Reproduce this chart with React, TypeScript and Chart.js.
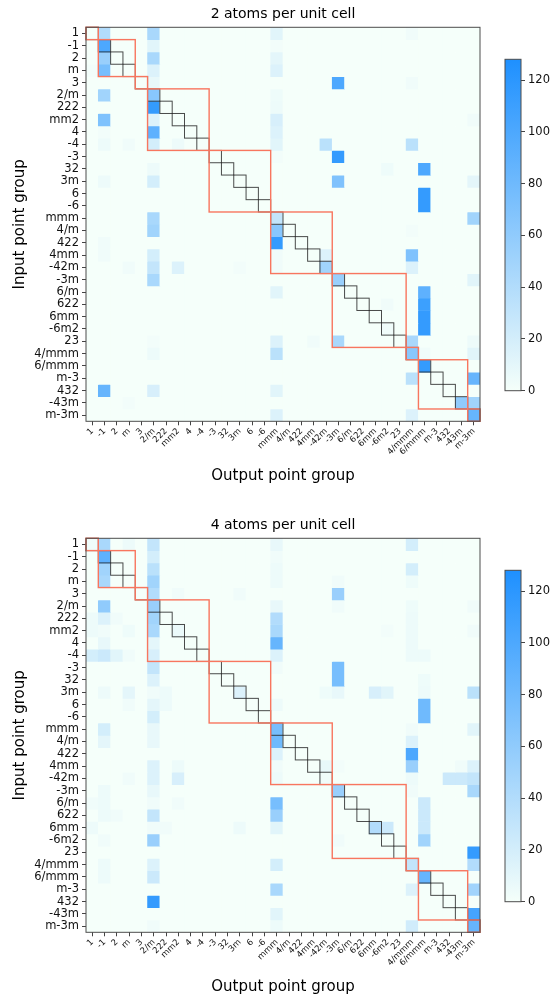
import React, { useEffect, useRef } from "react";
import { Chart, registerables } from "chart.js";

Chart.register(...registerables);

const GROUPS = ["1","-1","2","m","3","2/m","222","mm2","4","-4","-3","32","3m","6","-6","mmm","4/m","422","4mm","-42m","-3m","6/m","622","6mm","-6m2","23","4/mmm","6/mmm","m-3","432","-43m","m-3m"];
const GROUP_ORDERS = [1,2,2,2,3,4,4,4,4,4,6,6,6,6,6,8,8,8,8,8,12,12,12,12,12,12,16,24,24,24,24,48];
const COLORBAR_MAX = 128;
const COLORBAR_TICKS = [0,20,40,60,80,100,120];
const TITLE_2 = "2 atoms per unit cell";
const TITLE_4 = "4 atoms per unit cell";
const X_TITLE = "Output point group";
const Y_TITLE = "Input point group";

const COUNTS_2: number[][] = [
  [0,40,0,0,0,45,0,0, 0,0,0,0,0,0,0,12, 0,0,0,0,0,0,0,0, 0,0,3,0,0,0,0,0],
  [0,100,0,0,0,12,0,0, 0,0,0,0,0,0,0,2, 0,0,0,0,0,0,0,0, 0,0,0,0,0,0,0,0],
  [0,55,0,0,0,45,0,0, 0,0,0,0,0,0,0,10, 0,0,0,0,0,0,0,0, 0,0,0,0,0,0,0,0],
  [2,75,0,0,0,15,0,0, 0,0,0,0,0,0,0,15, 0,0,0,0,0,0,0,0, 0,0,0,0,0,0,0,0],
  [0,0,0,0,0,8,0,0, 0,0,0,0,0,0,0,0, 0,0,0,0,100,0,0,0, 0,0,3,0,0,0,0,0],
  [0,50,0,0,0,65,0,0, 0,0,0,0,0,0,0,4, 0,0,0,0,0,0,0,0, 0,0,0,0,0,0,0,0],
  [0,0,0,0,0,115,0,0, 0,0,0,0,0,0,0,5, 0,0,0,0,0,0,0,0, 0,0,0,0,0,0,0,0],
  [0,70,0,0,0,15,0,0, 0,0,0,0,0,0,0,18, 0,0,0,0,0,0,0,0, 0,0,0,0,0,0,0,3],
  [0,2,0,0,0,90,0,0, 0,0,0,0,0,0,0,15, 0,0,0,0,0,0,0,0, 0,0,0,0,0,0,0,0],
  [0,5,0,3,0,20,0,5, 0,0,0,0,0,0,0,12, 0,0,0,35,0,0,0,0, 0,0,35,0,0,0,0,0],
  [0,0,0,0,0,0,0,0, 0,0,0,0,0,0,0,2, 0,0,0,0,115,0,0,0, 0,0,0,0,0,0,0,0],
  [0,0,0,0,0,5,0,0, 0,0,0,0,0,0,0,0, 0,0,0,0,0,0,0,0, 4,0,0,100,0,0,0,0],
  [0,5,0,0,0,20,0,0, 0,0,0,0,0,0,0,0, 0,0,0,0,70,0,0,0, 0,0,0,0,0,0,0,10],
  [0,0,0,0,0,0,0,0, 0,0,0,0,0,0,0,0, 0,0,0,0,0,0,0,0, 0,0,0,115,0,0,0,0],
  [0,0,0,0,0,0,0,0, 0,0,0,0,0,0,0,0, 0,0,0,0,0,0,0,0, 0,0,0,115,0,0,0,0],
  [0,0,0,0,0,45,0,0, 0,0,0,0,0,0,0,30, 0,0,0,0,0,0,0,0, 0,0,0,0,0,0,0,50],
  [0,0,0,0,0,50,0,0, 0,0,0,0,0,0,0,65, 0,0,0,0,0,0,0,0, 0,0,2,0,0,0,0,0],
  [0,3,0,0,0,0,0,0, 0,0,0,0,0,0,0,115, 0,0,0,0,0,0,0,0, 0,0,0,0,0,0,0,0],
  [0,3,0,0,0,20,0,0, 0,0,0,0,0,0,0,3, 0,0,0,15,0,0,0,0, 0,0,70,0,0,0,0,0],
  [0,0,0,3,0,30,0,15, 0,0,0,0,2,0,0,3, 0,0,0,50,0,0,0,0, 0,0,15,0,0,0,0,0],
  [0,0,0,0,0,45,0,0, 0,0,0,0,0,0,0,0, 0,0,0,0,55,0,0,0, 0,0,0,0,0,0,0,12],
  [0,0,0,0,0,0,0,0, 0,0,0,0,0,0,0,12, 0,0,0,0,0,0,0,0, 0,0,0,90,0,0,0,0],
  [0,0,0,0,0,0,0,0, 0,0,0,0,0,0,0,0, 0,0,0,0,0,0,0,0, 3,0,0,110,0,0,0,0],
  [0,0,0,0,0,0,0,0, 0,0,0,0,0,0,0,0, 0,0,0,0,0,0,0,0, 0,0,0,115,0,0,0,0],
  [0,0,0,0,0,0,0,0, 0,0,0,0,0,0,0,0, 0,0,0,0,0,0,0,0, 3,0,0,115,0,0,0,0],
  [0,0,0,0,0,2,0,0, 0,0,0,0,0,0,0,15, 0,0,3,0,45,0,0,0, 0,0,45,0,0,0,0,5],
  [0,0,0,0,0,5,0,0, 0,0,0,0,0,0,0,35, 0,0,0,0,0,0,0,0, 0,0,65,3,0,0,0,12],
  [0,0,0,0,0,0,0,0, 0,0,0,0,0,0,0,0, 0,0,0,0,0,0,0,0, 0,0,0,115,0,0,0,0],
  [0,0,0,0,0,0,0,0, 0,0,0,0,0,0,0,0, 0,0,0,0,0,0,0,0, 0,0,35,0,0,0,0,85],
  [0,85,0,0,0,18,0,0, 0,0,0,0,0,0,0,12, 0,0,0,0,0,0,0,0, 0,0,0,0,0,0,0,0],
  [0,0,0,2,0,0,0,0, 0,0,0,0,0,0,0,0, 0,0,0,0,0,0,0,0, 0,0,0,0,0,0,60,50],
  [0,0,0,0,0,0,0,0, 0,0,0,0,0,0,0,15, 0,0,0,0,0,0,0,0, 0,0,15,0,0,0,0,85],
];

const COUNTS_4: number[][] = [
  [3,45,0,5,0,30,0,0, 0,0,0,0,0,0,0,8, 0,0,0,0,0,0,0,0, 0,0,20,0,0,0,0,0],
  [0,90,0,0,0,20,0,0, 0,0,0,0,0,0,0,3, 0,0,0,0,0,0,0,0, 0,0,0,0,0,0,0,0],
  [0,50,0,0,0,35,0,0, 0,0,0,0,0,0,0,5, 0,0,0,0,0,0,0,0, 0,0,20,0,0,0,0,0],
  [0,45,0,0,0,50,0,0, 0,0,0,0,0,0,0,5, 0,0,0,0,3,0,0,0, 0,0,4,0,0,0,0,0],
  [0,0,0,0,0,40,0,3, 0,0,0,0,3,0,0,0, 0,0,0,0,55,0,0,0, 0,0,0,0,0,0,0,0],
  [0,60,0,0,0,55,0,0, 0,0,0,0,0,0,0,8, 0,0,0,0,3,0,0,0, 0,0,4,0,0,0,0,3],
  [5,15,3,0,0,50,0,0, 0,0,0,0,0,0,0,40, 0,0,0,0,0,0,0,0, 0,0,5,0,0,0,0,0],
  [5,3,0,4,0,45,0,6, 0,0,0,0,0,0,0,45, 0,0,0,0,0,0,0,0, 2,0,5,0,0,0,0,3],
  [0,8,0,0,0,10,0,0, 0,0,0,0,0,0,0,85, 0,0,0,0,0,0,0,0, 0,0,5,0,0,0,0,0],
  [20,25,12,3,0,18,0,0, 0,0,0,0,0,0,0,15, 0,0,0,0,0,0,0,0, 0,0,5,5,0,0,0,0],
  [0,0,0,0,0,30,0,0, 0,0,0,0,0,0,0,3, 0,0,0,0,75,0,0,0, 0,0,0,0,0,0,0,0],
  [0,0,0,0,0,15,0,0, 0,0,0,0,0,0,0,0, 0,0,0,0,75,0,0,0, 0,0,0,4,0,0,0,0],
  [0,5,0,10,0,3,5,0, 0,0,0,0,15,0,0,0, 0,0,0,4,8,0,0,18, 12,0,0,5,0,0,0,35],
  [0,0,0,3,0,10,5,0, 0,0,0,0,0,0,0,5, 0,0,0,0,0,0,0,0, 0,0,0,80,0,0,0,0],
  [0,0,0,0,0,20,0,0, 0,0,0,0,0,0,0,0, 0,0,0,0,0,0,0,0, 0,0,0,80,0,0,0,0],
  [0,20,0,0,0,8,0,0, 0,0,0,0,0,0,0,75, 0,0,0,0,0,0,0,0, 0,0,3,0,0,0,0,12],
  [0,10,0,0,0,8,0,0, 0,0,0,0,0,0,0,80, 0,0,0,0,0,0,0,0, 0,0,15,0,0,0,0,0],
  [0,0,0,0,0,0,0,0, 0,0,0,0,0,0,0,15, 0,0,0,0,0,0,0,0, 0,0,100,0,0,0,0,0],
  [0,0,0,0,0,15,0,5, 0,0,0,0,0,0,0,3, 0,0,0,8,2,0,0,0, 0,0,55,0,0,0,3,15],
  [0,0,0,3,0,15,0,18, 0,0,0,0,0,0,0,5, 0,0,0,3,0,0,0,0, 0,0,5,0,0,25,25,30],
  [0,5,0,0,0,8,0,0, 0,0,0,0,0,0,0,0, 0,0,0,0,55,0,0,0, 0,0,3,0,0,0,0,45],
  [3,5,0,0,0,3,0,3, 0,0,0,0,0,0,0,75, 0,0,0,0,0,0,0,0, 0,0,0,25,0,0,0,0],
  [0,5,3,0,0,30,0,0, 0,0,0,0,0,0,0,55, 0,0,0,0,0,0,0,0, 0,0,0,25,0,0,0,0],
  [5,0,0,0,0,3,3,0, 0,0,0,0,5,0,0,12, 0,0,0,0,0,0,0,40, 25,0,0,25,0,0,0,0],
  [0,3,0,0,0,55,0,0, 0,0,0,0,0,0,0,0, 0,0,0,0,3,0,0,0, 0,0,0,50,0,0,0,0],
  [0,0,0,0,0,0,0,0, 0,0,0,0,0,0,0,0, 0,0,0,0,0,0,0,0, 0,0,0,0,0,0,0,115],
  [0,5,0,0,0,15,0,0, 0,0,0,0,0,0,0,20, 0,0,0,0,0,0,0,0, 0,0,30,0,0,0,0,40],
  [0,5,0,0,0,25,0,0, 0,0,0,0,0,0,0,0, 0,0,0,0,0,0,0,0, 0,0,0,85,0,0,0,0],
  [0,0,0,0,0,0,0,0, 0,0,0,0,0,0,0,45, 0,0,0,0,0,0,0,0, 0,0,15,0,0,0,0,50],
  [0,0,0,0,0,115,0,0, 0,0,0,0,0,0,0,0, 0,0,0,0,0,0,0,0, 0,0,0,0,0,0,0,0],
  [0,0,0,0,0,0,0,0, 0,0,0,0,0,0,0,12, 0,0,0,0,0,0,0,0, 0,0,0,0,0,0,0,105],
  [0,0,0,0,0,3,0,0, 0,0,0,0,0,0,0,5, 0,0,0,0,0,0,0,0, 0,0,22,0,0,0,0,85],
];

const FONT = "DejaVu Sans";
const LOW = [245, 255, 250];
const HIGH = [30, 144, 255];

function cellColor(v: number): string {
  const t = Math.max(0, Math.min(1, v / COLORBAR_MAX));
  const c = LOW.map((l, i) => Math.round(l + (HIGH[i] - l) * t));
  return `rgb(${c[0]},${c[1]},${c[2]})`;
}

const PANEL_W = 557;
const PANEL_H = 485;

const boxesPlugin = {
  id: "diagBoxes",
  afterDatasetsDraw(chart: any) {
    const { ctx, scales } = chart;
    const x = scales.x;
    const y = scales.y;
    const cw = x.getPixelForValue(1) - x.getPixelForValue(0);
    const left = (i: number) => x.getPixelForValue(i) - cw / 2;
    const top = (i: number) => y.getPixelForValue(i - 0.5);
    ctx.save();
    ctx.strokeStyle = "rgba(30,30,30,0.8)";
    ctx.lineWidth = 1;
    for (let i = 0; i < GROUPS.length; i++) {
      ctx.strokeRect(left(i), top(i), cw, top(i + 1) - top(i));
    }
    ctx.strokeStyle = "#f8765f";
    ctx.lineWidth = 1.4;
    let a = 0;
    for (let i = 1; i <= GROUP_ORDERS.length; i++) {
      if (i === GROUP_ORDERS.length || GROUP_ORDERS[i] !== GROUP_ORDERS[a]) {
        ctx.strokeRect(left(a), top(a), cw * (i - a), top(i) - top(a));
        a = i;
      }
    }
    ctx.restore();
  },
  afterDraw(chart: any) {
    const { ctx, chartArea } = chart;
    ctx.save();
    ctx.strokeStyle = "#4d4d4d";
    ctx.lineWidth = 1;
    ctx.strokeRect(chartArea.left, chartArea.top, chartArea.right - chartArea.left, chartArea.bottom - chartArea.top);
    ctx.restore();
  },
};

const frameOnly = {
  id: "cbFrame",
  afterDraw(chart: any) {
    const { ctx, chartArea } = chart;
    ctx.save();
    ctx.strokeStyle = "#4d4d4d";
    ctx.lineWidth = 1;
    ctx.strokeRect(chartArea.left, chartArea.top, chartArea.right - chartArea.left, chartArea.bottom - chartArea.top);
    ctx.restore();
  },
};

function Panel({ title, counts, top }: { title: string; counts: number[][]; top: number }) {
  const heatRef = useRef<HTMLCanvasElement>(null);
  const barRef = useRef<HTMLCanvasElement>(null);

  useEffect(() => {
    const datasets = counts.map((row, r) => ({
      data: GROUPS.map(() => [r - 0.5, r + 0.5]),
      backgroundColor: row.map(cellColor),
      borderWidth: 0,
      grouped: false,
      barPercentage: 1,
      categoryPercentage: 1,
    }));
    const heat = new Chart(heatRef.current!, {
      type: "bar",
      data: { labels: GROUPS, datasets: datasets as any },
      options: {
        responsive: false,
        maintainAspectRatio: false,
        animation: false,
        events: [],
        layout: { padding: { left: 0, right: 77, top: 0, bottom: 0 } },
        plugins: {
          legend: { display: false },
          tooltip: { enabled: false },
          title: {
            display: true,
            text: title,
            fullSize: false,
            color: "#000",
            font: { family: FONT, size: 14, weight: "normal" },
            padding: { top: 5.6, bottom: 4.9 },
          },
        },
        scales: {
          x: {
            type: "category",
            offset: true,
            grid: { offset: false, drawOnChartArea: false, drawTicks: true, tickLength: 4, color: "#444" },
            border: { display: false },
            ticks: {
              autoSkip: false,
              maxRotation: 45,
              minRotation: 45,
              padding: 1,
              color: "#111",
              font: { family: FONT, size: 8.5 },
            },
            title: {
              display: true,
              text: X_TITLE,
              color: "#000",
              font: { family: FONT, size: 15 },
              padding: { top: 0, bottom: 0 },
            },
            afterFit: (s: any) => {
              s.height = 63.7;
            },
          },
          y: {
            type: "linear",
            reverse: true,
            min: -0.5,
            max: GROUPS.length - 0.5,
            grid: { drawOnChartArea: false, drawTicks: true, tickLength: 4, color: "#444" },
            border: { display: false },
            afterBuildTicks: (s: any) => {
              s.ticks = GROUPS.map((_, i) => ({ value: i }));
            },
            ticks: {
              autoSkip: false,
              padding: 3,
              color: "#111",
              font: { family: FONT, size: 11.5 },
              callback: (v: any) => GROUPS[Math.round(Number(v))] ?? "",
            },
            title: {
              display: true,
              text: Y_TITLE,
              color: "#000",
              font: { family: FONT, size: 15 },
              padding: { top: 11, bottom: 0 },
            },
            afterFit: (s: any) => {
              s.width = 86;
            },
          },
        },
      } as any,
      plugins: [boxesPlugin],
    });

    const bar = new Chart(barRef.current!, {
      type: "bar",
      data: {
        labels: [""],
        datasets: [
          {
            data: [[0, COLORBAR_MAX]],
            borderWidth: 0,
            barPercentage: 1,
            categoryPercentage: 1,
            backgroundColor: (c: any) => {
              const area = c.chart.chartArea;
              if (!area) return cellColor(0);
              const g = c.chart.ctx.createLinearGradient(0, area.bottom, 0, area.top);
              g.addColorStop(0, cellColor(0));
              g.addColorStop(1, cellColor(COLORBAR_MAX));
              return g;
            },
          } as any,
        ],
      },
      options: {
        responsive: false,
        maintainAspectRatio: false,
        animation: false,
        events: [],
        layout: { padding: { left: 15, right: 0, top: 59.3, bottom: PANEL_H - 390.7 } },
        plugins: { legend: { display: false }, tooltip: { enabled: false }, title: { display: false } },
        scales: {
          x: { display: false, offset: true },
          y: {
            type: "linear",
            position: "right",
            min: 0,
            max: COLORBAR_MAX,
            grid: { drawOnChartArea: false, drawTicks: true, tickLength: 4, color: "#444" },
            border: { display: false },
            afterBuildTicks: (s: any) => {
              s.ticks = COLORBAR_TICKS.map((v) => ({ value: v }));
            },
            ticks: { padding: 3, color: "#111", font: { family: FONT, size: 11.5 } },
            afterFit: (s: any) => {
              s.width = 36;
            },
          },
        },
      } as any,
      plugins: [frameOnly],
    });

    return () => {
      heat.destroy();
      bar.destroy();
    };
  }, [title, counts]);

  return (
    <div style={{ position: "absolute", left: 0, top, width: PANEL_W, height: PANEL_H }}>
      <canvas
        ref={heatRef}
        width={PANEL_W}
        height={PANEL_H}
        style={{ position: "absolute", left: 0, top: 0, width: PANEL_W, height: PANEL_H }}
      />
      <canvas
        ref={barRef}
        width={67}
        height={PANEL_H}
        style={{ position: "absolute", left: 490, top: 0, width: 67, height: PANEL_H }}
      />
    </div>
  );
}

export default function App() {
  return (
    <div
      style={{
        position: "absolute",
        left: 0,
        top: 0,
        width: 557,
        height: 996,
        overflow: "hidden",
        background: "#fff",
      }}
    >
      <Panel title={TITLE_2} counts={COUNTS_2} top={0} />
      <Panel title={TITLE_4} counts={COUNTS_4} top={511} />
    </div>
  );
}
